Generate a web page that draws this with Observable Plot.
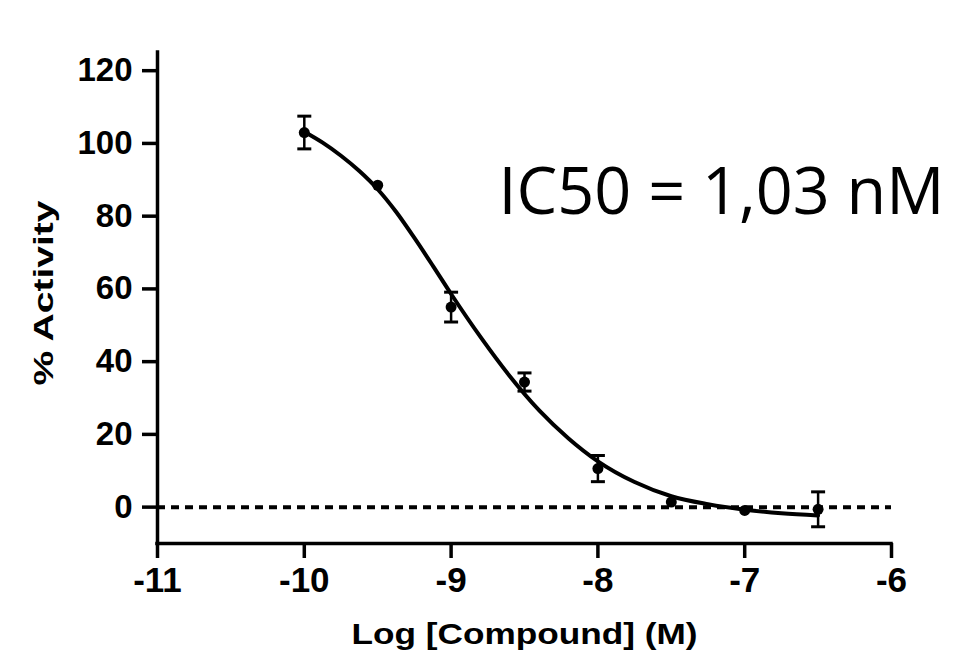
<!DOCTYPE html>
<html>
<head>
<meta charset="utf-8">
<script src="https://cdn.jsdelivr.net/npm/d3@7"></script>
<script src="https://cdn.jsdelivr.net/npm/@observablehq/plot@0.6"></script>
<style>
  html, body { margin: 0; padding: 0; background: #ffffff; }
  #chart { width: 954px; height: 652px; }
</style>
</head>
<body>
<div id="chart"></div>
<script>
// ---- data ----
const logConc  = [-10, -9.5, -9, -8.5, -8, -7.5, -7, -6.5];
const activity = [103, 88.5, 55, 34.4, 10.6, 1.4, -0.9, -0.6];
const sem      = [4.5, 0, 4.1, 2.5, 3.6, 0, 0, 4.8];

// fitted curve
const curveX = [-10, -9.875, -9.75, -9.625, -9.5, -9.375, -9.25, -9.125, -9.0, -8.8, -8.6, -8.4, -8.2, -8.0, -7.75, -7.5, -7.25, -7.0, -6.75, -6.5];
const curveY = [103.2, 100.2, 96.6, 92.4, 87.4, 81.2, 74.0, 66.4, 58.6, 46.8, 36.0, 26.6, 18.9, 12.6, 6.9, 3.0, 0.8, -0.7, -1.7, -2.3];

const xTicks = [-11, -10, -9, -8, -7, -6];
const yTicks = [0, 20, 40, 60, 80, 100, 120];
const xDomain = [-11, -6];
const yDomain = [-10, 125];
const baseline = [0];

const xLabel = "Log [Compound] (M)";
const yLabel = "% Activity";
const annotation = ["IC50 = 1,03 nM"];

// ---- tables built from the arrays ----
const points = logConc.map((x, i) => ({x, y: activity[i], lo: activity[i] - sem[i], hi: activity[i] + sem[i], sem: sem[i]}));
const bars = points.filter(d => d.sem > 0);
const curve = curveX.map((x, i) => ({x, y: curveY[i]}));

const capSymbol = {
  draw(context) { context.moveTo(-7, 0); context.lineTo(7, 0); }
};

const fmt = d => String(d);

const chart = Plot.plot({
  width: 954,
  height: 652,
  marginLeft: 157,
  marginRight: 63,
  marginTop: 52,
  marginBottom: 109,
  style: {fontFamily: "'Liberation Sans', Arial, sans-serif", color: "#000", background: "#fff", overflow: "visible"},
  x: {domain: xDomain},
  y: {domain: yDomain},
  marks: [
    Plot.ruleY(baseline, {x1: xDomain[0], x2: xDomain[1], stroke: "#000", strokeWidth: 4, strokeDasharray: "8,6"}),
    Plot.axisY({ticks: yTicks, tickFormat: fmt, tickSize: 15, tickPadding: 10, fontSize: 33, fontWeight: "bold", strokeWidth: 3.5, label: null}),
    Plot.axisX({ticks: xTicks, tickFormat: fmt, tickSize: 15, tickPadding: 9, fontSize: 35, fontWeight: "bold", strokeWidth: 3.5, label: null}),
    Plot.ruleX([xDomain[0]], {y1: yDomain[0], y2: yDomain[1], stroke: "#000", strokeWidth: 3.5, strokeLinecap: "square"}),
    Plot.ruleY([yDomain[0]], {x1: xDomain[0], x2: xDomain[1], stroke: "#000", strokeWidth: 3.5, strokeLinecap: "square"}),
    Plot.line(curve, {x: "x", y: "y", curve: "monotone-x", stroke: "#000", strokeWidth: 4}),
    Plot.ruleX(bars, {x: "x", y1: "lo", y2: "hi", stroke: "#000", strokeWidth: 2.5}),
    Plot.dot(bars, {x: "x", y: "hi", symbol: capSymbol, stroke: "#000", strokeWidth: 3, fill: "none", r: 5}),
    Plot.dot(bars, {x: "x", y: "lo", symbol: capSymbol, stroke: "#000", strokeWidth: 3, fill: "none", r: 5}),
    Plot.dot(points, {x: "x", y: "y", r: 5.5, fill: "#000", stroke: "none"}),
    Plot.text([yLabel], {frameAnchor: "left", rotate: -90, dx: -113, dy: -5, fontSize: 27, fontWeight: "bold", textAnchor: "middle", lineAnchor: "middle", fill: "#000"}),
    Plot.text([xLabel], {frameAnchor: "bottom", dy: 100, fontSize: 30, fontWeight: "bold", textAnchor: "middle", lineAnchor: "bottom", fill: "#000"}),
    Plot.text(annotation, {frameAnchor: "top-right", dx: 53, dy: 161, fontSize: 66, fontFamily: "'Open Sans', 'Noto Sans', sans-serif", textAnchor: "end", lineAnchor: "bottom", fill: "#000"})
  ]
});

document.getElementById("chart").appendChild(chart);

// stretch the titles to the lengths measured in the reference
const lengths = {[xLabel]: 346, [yLabel]: 185, [annotation[0]]: 446};
chart.querySelectorAll("text").forEach(t => {
  const L = lengths[t.textContent];
  if (L) { t.setAttribute("textLength", L); t.setAttribute("lengthAdjust", "spacingAndGlyphs"); }
});
</script>
</body>
</html>
